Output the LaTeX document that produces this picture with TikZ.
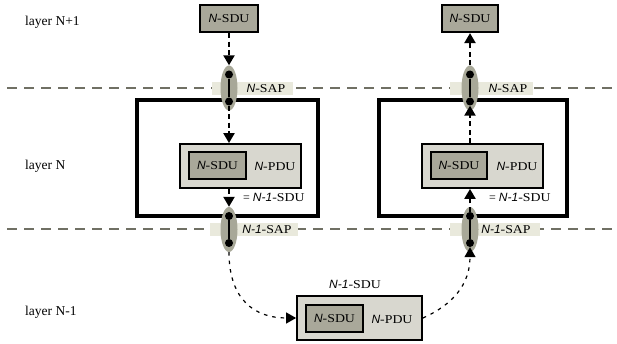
\documentclass[tikz,border=0pt]{standalone}
\usepackage{fontspec}
\setmainfont{Liberation Serif}
\setsansfont{Liberation Sans}
\newfontfamily\widefont[FakeStretch=1.15]{Liberation Serif}
\usetikzlibrary{arrows.meta,shapes.geometric}
\definecolor{boxfill}{RGB}{169,168,154}
\definecolor{pdufill}{RGB}{216,215,207}
\definecolor{sapfill}{RGB}{168,168,152}
\definecolor{lblfill}{RGB}{233,233,220}
\definecolor{dashgray}{RGB}{112,112,100}
\newcommand{\myN}{{\sffamily\itshape N}}
\newcommand{\myNm}{{\sffamily\itshape N-1}}
\newcommand{\mysdu}{\myN{\widefont-SDU}}
\newcommand{\mypdu}{\myN{\widefont-PDU}}
\tikzset{
  every node/.style={font=\fontsize{12}{14}\selectfont},
  layerlbl/.style={anchor=west, inner sep=0pt, font=\fontsize{13.5}{15}\selectfont},
  layerline/.style={draw=dashgray, line width=1.8pt, dash pattern=on 10pt off 7pt},
  sdubox/.style={draw=black, line width=2.2pt, fill=boxfill, inner sep=0pt, minimum height=27pt},
  pdubox/.style={draw=black, line width=1.8pt, fill=pdufill, inner sep=0pt, minimum height=44pt},
  bigbox/.style={draw=black, line width=3.2pt, inner sep=0pt, minimum height=116pt},
  lblbg/.style={fill=lblfill, inner sep=0pt, minimum height=13pt},
  txt/.style={inner sep=0pt},
  sapell/.style={ellipse, fill=sapfill, draw=none, inner sep=0pt, minimum width=17pt, minimum height=45pt},
  dotnode/.style={circle, fill=black, inner sep=0pt, minimum size=8pt},
  sapbar/.style={line width=2.6pt},
  vflow/.style={line width=2.2pt, dash pattern=on 5pt off 3.5pt, -{Triangle[width=11pt,length=10pt]}},
  cflow/.style={line width=1.2pt, dash pattern=on 3.5pt off 5pt, -{Triangle[width=11pt,length=10pt]}}
}
\begin{document}
\begin{tikzpicture}[x=1pt,y=-1pt]
\useasboundingbox (0,0) rectangle (617,344);
% layer separators
\coordinate (l1a) at (7,88); \coordinate (l1b) at (612,88);
\coordinate (l2a) at (7,229); \coordinate (l2b) at (612,229);
\draw[layerline] (l1a) -- (l1b);
\draw[layerline] (l2a) -- (l2b);
% layer labels
\node[layerlbl] (layA) at (25,22) {layer N+1};
\node[layerlbl] (layB) at (25,166) {layer N};
\node[layerlbl] (layC) at (25,312) {layer N-1};
% SAP label backgrounds and texts
\node[lblbg, minimum width=81pt] (bgNL) at (252.5,88.5) {};
\node[lblbg, minimum width=83pt] (bgNR) at (491.5,88.5) {};
\node[lblbg, minimum width=88pt] (bgML) at (254,229.5) {};
\node[lblbg, minimum width=90pt] (bgMR) at (495,229.5) {};
\node[txt] (tNL) at (266,88.5) {\myN{\widefont-SAP}};
\node[txt] (tNR) at (508,88.5) {\myN{\widefont-SAP}};
\node[txt] (tML) at (267,229.5) {\myNm{\widefont-SAP}};
\node[txt] (tMR) at (506,229.5) {\myNm{\widefont-SAP}};
% top SDU boxes
\node[sdubox, minimum width=58pt] (topL) at (229,18.5) {\mysdu};
\node[sdubox, minimum width=56pt] (topR) at (470,18.5) {\mysdu};
% big layer-N entity boxes
\node[bigbox, minimum width=181pt] (entL) at (227.5,158) {};
\node[bigbox, minimum width=188pt] (entR) at (473,158) {};
% PDU boxes
\node[pdubox, minimum width=121pt] (pduL) at (240.5,166) {};
\node[pdubox, minimum width=121pt] (pduR) at (482.5,166) {};
\node[pdubox, minimum width=125pt] (pduB) at (359.5,318) {};
\node[sdubox, minimum width=57pt] (sduL) at (217.5,165.5) {\mysdu};
\node[sdubox, minimum width=56pt] (sduR) at (459,165.5) {\mysdu};
\node[sdubox, minimum width=57pt] (sduB) at (334.5,318.5) {\mysdu};
\node[txt] (pL) at (275,166.5) {\mypdu};
\node[txt] (pR) at (517,166.5) {\mypdu};
\node[txt] (pB) at (392,319) {\mypdu};
% = N-1-SDU labels
\node[txt, anchor=west] (eqL) at (243,197) {= \myNm{\widefont-SDU}};
\node[txt, anchor=west] (eqR) at (489,197) {= \myNm{\widefont-SDU}};
\node[txt] (sB) at (355,284) {\myNm{\widefont-SDU}};
% SAP ellipses
\node[sapell] (sapLt) at (229,88) {};
\node[sapell] (sapRt) at (470,88) {};
\node[sapell] (sapLb) at (229,229.5) {};
\node[sapell] (sapRb) at (470,229.5) {};
% dots
\node[dotnode] (dLt1) at (229,74.5) {};
\node[dotnode] (dLt2) at (229,101.5) {};
\node[dotnode] (dRt1) at (470,74.5) {};
\node[dotnode] (dRt2) at (470,101.5) {};
\node[dotnode] (dLb1) at (229,216) {};
\node[dotnode] (dLb2) at (229,243) {};
\node[dotnode] (dRb1) at (470,216) {};
\node[dotnode] (dRb2) at (470,243) {};
\draw[sapbar] (dLt1) -- (dLt2);
\draw[sapbar] (dRt1) -- (dRt2);
\draw[sapbar] (dLb1) -- (dLb2);
\draw[sapbar] (dRb1) -- (dRb2);
% downward flow (left)
\draw[vflow] (topL.south) -- (sapLt.north);
\draw[vflow] (dLt2.south) -- (dLt2.south |- pduL.north);
\draw[vflow] (sapLb.north |- pduL.south) -- (sapLb.north);
\draw[cflow] (sapLb.south) .. controls (229,300) and (255,318) .. (pduB.west);
% upward flow (right)
\draw[cflow] (pduB.east) .. controls (452,305) and (470,285) .. (dRb2.south);
\draw[vflow] (dRb1.north) -- (dRb1.north |- pduR.south);
\draw[vflow] (dRt2.south |- pduR.north) -- (dRt2.south);
\draw[vflow] (sapRt.north) -- (topR.south);
\end{tikzpicture}
\end{document}
